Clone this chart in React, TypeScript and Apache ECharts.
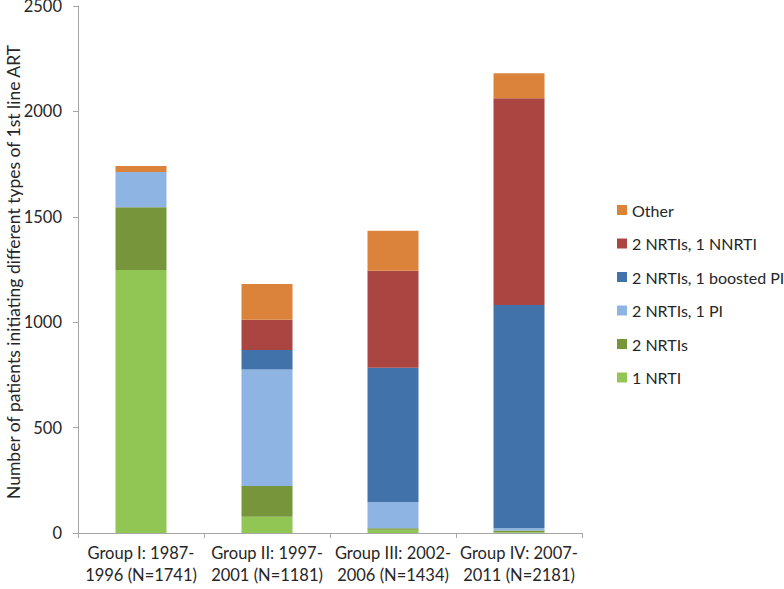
import React, { useEffect, useRef } from "react";
import * as echarts from "echarts";

const categories = [
  "Group I: 1987-\n1996 (N=1741)",
  "Group II: 1997-\n2001 (N=1181)",
  "Group III: 2002-\n2006 (N=1434)",
  "Group IV: 2007-\n2011 (N=2181)",
];

const seriesNames = [
  "1 NRTI",
  "2 NRTIs",
  "2 NRTIs, 1 PI",
  "2 NRTIs, 1 boosted PI",
  "2 NRTIs, 1 NNRTI",
  "Other",
];

const oneNrti = [1248, 77, 15, 4];
const twoNrtis = [297, 146, 8, 8];
const twoNrtisOnePi = [167, 553, 123, 10];
const twoNrtisBoostedPi = [0, 92, 638, 1060];
const twoNrtisNnrti = [0, 144, 460, 980];
const other = [29, 169, 190, 119];

const seriesValues = [oneNrti, twoNrtis, twoNrtisOnePi, twoNrtisBoostedPi, twoNrtisNnrti, other];
const colors = ["#92C654", "#77963B", "#8EB4E3", "#4272AA", "#AB4542", "#DC833B"];

const yTicks = [0, 500, 1000, 1500, 2000, 2500];
const yTitle = "Number of patients initiating different types of 1st line ART";

export default function App() {
  const ref = useRef<HTMLDivElement>(null);
  useEffect(() => {
    if (!ref.current) return;
    const chart = echarts.init(ref.current, null, { renderer: "svg" });
    const font = "Lato, 'Open Sans', sans-serif";
    chart.setOption({
      animation: false,
      textStyle: { fontFamily: font },
      grid: { left: 78, top: 6, right: 202, bottom: 56, containLabel: false, outerBoundsMode: "none" },
      graphic: [
        {
          type: "text",
          x: 13,
          y: 272,
          rotation: Math.PI / 2,
          style: {
            text: yTitle,
            fontSize: 17.5,
            fontFamily: font,
            fill: "#262626",
            textAlign: "center",
            textVerticalAlign: "middle",
          },
        },
      ],
      legend: {
        orient: "vertical",
        left: 612,
        top: 197,
        itemWidth: 10,
        itemHeight: 10,
        itemGap: 17.5,
        icon: "rect",
        data: [...seriesNames].reverse(),
        textStyle: { fontSize: 16, color: "#262626", fontFamily: font },
      },
      xAxis: {
        type: "category",
        data: categories,
        axisLine: { lineStyle: { color: "#A6A6A6", width: 1 } },
        axisTick: { show: true, length: 5, lineStyle: { color: "#A6A6A6" } },
        axisLabel: { fontSize: 16.5, color: "#262626", lineHeight: 22, margin: 9, interval: 0 },
      },
      yAxis: {
        type: "value",
        min: yTicks[0],
        max: yTicks[yTicks.length - 1],
        interval: 500,
        axisLine: { show: true, lineStyle: { color: "#A6A6A6", width: 1 } },
        axisTick: { show: true, length: 5, lineStyle: { color: "#A6A6A6" } },
        splitLine: { show: false },
        axisLabel: { fontSize: 16.5, color: "#262626", margin: 16, formatter: (v: number) => String(v) },
      },
      series: seriesNames.map((name, i) => ({
        name,
        type: "bar",
        stack: "total",
        barWidth: 51,
        data: seriesValues[i],
        itemStyle: { color: colors[i] },
      })),
    });
    return () => chart.dispose();
  }, []);
  return <div ref={ref} style={{ width: 784, height: 589, position: "absolute", left: 0, top: 0 }} />;
}
